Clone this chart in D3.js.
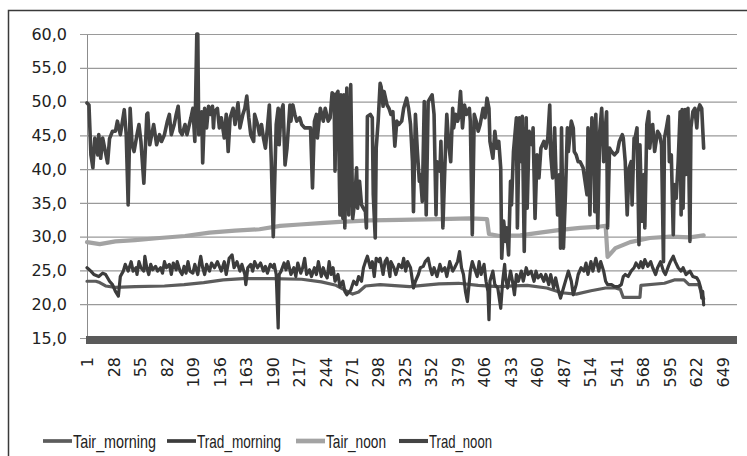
<!DOCTYPE html>
<html>
<head>
<meta charset="utf-8">
<script src="https://cdn.jsdelivr.net/npm/d3@7"></script>
<style>
  body { margin: 0; background: #fff; }
  svg { display: block; }
</style>
</head>
<body>
<div id="chart"></div>
<script>

// category axis labels (every 27th measurement)
var xTicks = [1, 28, 55, 82, 109, 136, 163, 190, 217, 244, 271, 298, 325, 352, 379, 406, 433, 460, 487, 514, 541, 568, 595, 622, 649];
var yTicks = [15, 20, 25, 30, 35, 40, 45, 50, 55, 60];

var seriesNames = ["Tair_morning", "Trad_morning", "Tair_noon", "Trad_noon"];

// [measurement number, temperature]
var tairMorning = [[1,23.4],[10,23.4],[14,23.2],[20,22.7],[30,22.5],[50,22.6],[80,22.7],[100,22.9],[120,23.2],[140,23.6],[160,23.8],[190,23.8],[220,23.7],[240,23.3],[255,22.8],[265,22.0],[272,21.5],[278,21.8],[285,22.7],[300,22.9],[330,22.6],[360,23.0],[380,23.1],[400,22.8],[420,22.6],[450,22.8],[470,22.4],[485,21.7],[500,21.5],[515,22.0],[530,22.4],[540,22.4],[545,22.2],[548,21.0],[565,21.0],[566,22.8],[590,23.1],[600,23.6],[610,23.6],[615,22.9],[625,22.9],[628,21.5],[630,20.8]];

var tradMorning = [[1,25.4],[5,24.9],[8,24.4],[13,24.1],[17,24.6],[20,24.4],[24,23.4],[27,22.9],[30,21.9],[33,21.2],[35,24.1],[38,24.9],[40,25.9],[43,24.9],[46,26.3],[48,24.9],[51,25.4],[52,24.4],[54,26.3],[56,25.4],[59,24.9],[60,27.1],[62,25.4],[64,24.4],[66,25.9],[68,25.1],[71,25.6],[73,24.9],[76,25.4],[78,24.6],[80,26.3],[82,25.4],[85,25.9],[87,24.4],[89,26.1],[92,25.1],[93,26.3],[96,24.9],[98,24.4],[100,25.6],[102,24.6],[104,26.3],[106,24.9],[109,24.6],[111,25.9],[114,24.4],[116,26.3],[117,27.1],[119,25.4],[121,24.4],[123,25.9],[126,24.9],[128,26.1],
  [131,25.4],[134,26.3],[138,24.9],[141,26.3],[143,24.4],[146,26.8],[149,27.3],[151,25.4],[154,26.3],[157,24.9],[159,25.9],[162,24.4],[163,22.9],[165,25.4],[168,25.9],[170,24.9],[172,26.3],[175,25.4],[178,26.1],[181,24.9],[183,25.6],[185,24.6],[188,25.9],[191,25.4],[192,25.9],[194,24.4],[196,16.5],[197,24.4],[199,24.9],[202,26.1],[204,25.1],[206,26.3],[209,24.4],[212,25.4],[214,24.1],[216,26.1],[219,24.6],[221,25.4],[223,26.8],[225,24.4],[228,25.1],[230,24.1],[233,25.4],[235,24.4],[237,26.3],[240,24.1],[242,25.4],[244,24.4],[246,23.9],[248,26.3],[250,24.4],[252,25.4],[254,23.4],[257,24.4],[259,22.6],[262,23.4],[264,21.9],
  [266,21.4],[270,22.1],[273,23.4],[276,22.9],[278,24.1],[281,23.4],[283,25.4],[285,26.3],[287,27.1],[290,25.4],[292,26.3],[294,24.1],[296,26.8],[299,26.3],[300,26.8],[303,24.4],[305,26.3],[307,26.8],[310,24.1],[311,26.3],[314,25.4],[316,24.4],[319,25.9],[322,25.4],[324,26.8],[326,24.9],[328,26.3],[331,25.4],[334,22.4],[336,23.4],[339,24.4],[341,25.4],[344,25.6],[346,26.3],[349,26.8],[351,25.4],[353,24.4],[355,25.4],[358,24.1],[361,25.9],[363,24.9],[366,25.4],[368,24.1],[371,26.3],[374,24.9],[376,25.4],[379,26.3],[381,27.8],[383,25.4],[385,24.4],[387,21.9],[389,20.4],[392,24.9],[394,26.3],[396,25.4],
  [399,24.1],[401,26.3],[403,24.4],[406,25.9],[408,23.4],[410,21.9],[411,17.7],[412,23.4],[415,24.9],[417,22.9],[420,22.4],[423,19.4],[425,23.4],[427,25.9],[428,23.9],[430,22.4],[433,24.9],[435,23.4],[437,21.4],[439,24.4],[441,23.4],[444,24.9],[446,23.4],[449,25.4],[451,24.4],[454,24.9],[457,23.4],[459,24.9],[461,23.9],[464,24.4],[467,23.4],[469,24.4],[472,22.9],[474,24.4],[477,22.4],[479,23.9],[482,21.9],[484,20.9],[487,22.4],[490,23.9],[492,24.9],[495,23.4],[497,21.4],[500,22.9],[502,24.4],[505,25.4],[508,24.9],[510,26.1],[512,24.4],[515,26.3],[517,24.9],[520,26.8],[523,24.9],[525,26.3],[528,24.9],[530,23.4],
  [532,22.9],[536,22.9],[539,22.6],[543,22.6],[546,22.9],[548,24.1],[550,24.4],[553,24.1],[556,24.9],[559,25.4],[561,26.1],[564,25.4],[566,26.3],[568,25.4],[570,26.6],[573,25.6],[576,26.3],[578,25.4],[581,24.4],[583,25.4],[586,26.3],[589,24.9],[591,24.4],[594,25.6],[596,26.3],[599,27.1],[601,26.3],[604,25.4],[607,24.9],[609,25.4],[612,24.4],[616,24.9],[619,24.1],[623,23.9],[625,23.4],[627,22.4],[628,20.9],[629,21.9],[630,19.9]];

var tairNoon = [[1,29.2],[14,28.9],[30,29.3],[50,29.5],[75,29.8],[101,30.1],[126,30.6],[152,30.9],[177,31.1],[198,31.6],[218,31.8],[239,32.0],[259,32.2],[290,32.4],[320,32.5],[361,32.6],[392,32.7],[409,32.6],[411,30.4],[422,30.1],[443,30.2],[463,30.6],[484,31.0],[504,31.3],[524,31.5],[530,31.6],[532,27.0],[540,28.3],[555,29.2],[575,29.8],[596,30.0],[616,29.9],[630,30.2]];

var tradNoon = [[1,49.8],[3,49.5],[5,42.1],[7,40.2],[9,44.6],[12,42.1],[13,45.1],[15,41.6],[17,44.6],[19,43.1],[22,40.9],[24,44.5],[27,45.6],[30,45.6],[32,47.1],[35,45.1],[39,48.8],[41,45.1],[43,34.7],[45,49.0],[47,43.6],[49,42.6],[52,45.1],[54,46.6],[56,44.1],[59,37.9],[62,48.1],[63,48.3],[65,43.6],[69,46.6],[72,43.6],[75,45.1],[77,44.1],[80,45.1],[83,47.1],[85,48.1],[87,45.1],[90,46.6],[92,48.1],[94,49.3],[96,45.6],[98,45.1],[101,46.6],[103,45.1],[107,47.6],[109,49.0],[111,44.1],[113,60.0],[114,60.0],[115,45.1],[118,48.5],[119,40.9],[121,49.0],[123,46.1],[125,49.3],[127,48.1],[129,49.3],[130,46.1],
  [131,48.5],[134,49.0],[136,46.1],[138,47.6],[141,44.6],[143,48.1],[145,42.6],[147,47.6],[150,49.0],[152,46.6],[155,49.8],[157,46.1],[160,48.1],[162,49.0],[164,50.8],[166,47.6],[168,45.1],[171,44.1],[172,48.1],[175,46.6],[177,45.1],[179,46.6],[181,44.6],[183,43.1],[185,46.1],[187,49.5],[189,41.1],[191,30.0],[192,35.7],[194,46.6],[196,49.0],[197,43.6],[199,48.5],[201,49.5],[203,40.6],[205,43.1],[208,49.5],[209,47.1],[211,49.5],[213,48.1],[215,47.1],[218,47.6],[220,46.6],[223,46.1],[226,46.1],[229,46.1],[231,37.2],[233,47.1],[235,48.1],[236,44.6],[239,49.0],[242,47.1],[244,49.0],[247,47.1],[249,47.6],[251,51.3],[253,51.0],[254,39.7],[255,51.0],[257,51.5],[259,33.2],[260,51.0],[262,32.7],[263,51.0],[264,31.3],
  [266,52.0],[268,33.2],[270,52.5],[272,32.7],[274,35.2],[276,40.2],[277,34.2],[279,38.2],[281,34.7],[283,34.2],[285,33.7],[286,31.3],[287,47.8],[290,48.1],[292,47.6],[293,36.2],[295,29.8],[296,43.1],[298,47.1],[300,52.7],[301,52.2],[303,49.3],[304,51.5],[307,49.5],[309,49.0],[311,48.1],[313,48.5],[315,43.4],[317,47.1],[319,46.6],[322,47.1],[324,49.0],[327,50.5],[329,49.0],[331,46.6],[333,41.1],[334,33.7],[336,48.1],[338,42.6],[340,38.2],[341,39.2],[343,35.2],[345,50.0],[347,33.2],[349,50.0],[351,50.5],[353,51.0],[355,48.1],[357,33.2],[358,41.1],[361,39.7],[362,44.1],[364,31.3],[367,44.6],[368,48.1],[370,43.6],[372,41.1],[374,49.0],[375,46.1],[377,48.1],[379,47.1],[380,47.6],[382,51.5],[384,46.1],[386,49.5],[388,48.1],[391,49.0],[392,47.1],[394,30.3],[396,48.1],
  [398,47.1],[400,45.6],[402,46.6],[405,49.0],[407,47.6],[409,50.5],[411,49.0],[412,44.1],[415,41.6],[417,45.6],[419,43.1],[421,44.1],[423,40.2],[424,26.8],[426,32.3],[428,29.3],[429,31.3],[431,27.3],[433,38.2],[434,34.7],[436,42.6],[439,47.6],[440,31.3],[442,47.6],[444,41.1],[445,47.8],[447,27.8],[449,47.6],[450,34.2],[452,45.6],[455,43.6],[456,46.1],[458,32.7],[460,42.1],[462,38.7],[464,43.1],[467,44.1],[469,43.1],[471,44.6],[473,49.5],[474,42.1],[476,38.7],[478,46.1],[479,41.1],[481,33.2],[483,39.2],[484,28.3],[485,46.1],[487,28.3],[489,36.2],[491,46.1],[492,42.6],[495,47.1],[497,46.1],[498,42.6],[500,42.1],[502,41.1],[504,41.1],[507,40.2],[508,39.2],[511,36.2],[512,46.1],[514,33.2],[516,47.6],[518,44.6],[519,33.7],[520,48.1],[522,31.3],[524,45.6],[526,49.0],[528,41.1],[530,46.6],
  [531,48.5],[532,31.3],[534,43.1],[536,42.6],[539,42.1],[542,42.6],[544,44.1],[547,45.1],[548,44.6],[550,41.1],[552,33.2],[554,40.2],[556,41.1],[557,34.7],[559,44.6],[560,44.6],[562,46.1],[564,28.8],[565,43.6],[567,32.3],[569,39.2],[570,31.3],[572,46.6],[574,48.5],[575,43.1],[577,46.1],[578,46.6],[580,42.6],[582,44.6],[583,45.6],[585,45.1],[587,43.6],[589,26.3],[590,44.6],[592,46.1],[594,47.8],[595,41.1],[597,42.1],[599,30.3],[600,37.7],[602,35.7],[604,41.1],[606,48.5],[607,33.2],[608,48.8],[609,34.2],[611,48.8],[612,39.2],[614,49.0],[616,29.3],[617,46.1],[619,48.5],[621,49.0],[623,46.1],[624,48.5],[626,49.5],[628,49.0],[630,43.1]];

var width = 747,
    height = 456;

var svg = d3.select("#chart").append("svg")
    .attr("width", width)
    .attr("height", height);

// chart frame (only top and left edges fall inside the picture)
svg.append("rect")
    .attr("x", 8.5)
    .attr("y", 10.5)
    .attr("width", 760)
    .attr("height", 460)
    .attr("fill", "none")
    .attr("stroke", "#3a3a3a")
    .attr("stroke-width", 1.5);

var x = d3.scaleLinear().domain([1, 664]).range([87, 737]);
var y = d3.scaleLinear().domain([15, 60]).range([338, 34]);

// y axis + gridlines
var yAxis = svg.append("g")
    .attr("transform", "translate(87,0)")
    .call(d3.axisLeft(y)
        .tickValues(yTicks)
        .tickSize(-650)
        .tickPadding(20)
        .tickFormat(function (d) { return d3.format(".1f")(d).replace(".", ","); }));

yAxis.select(".domain").attr("stroke", "#8c8c8c").attr("d", "M0.5," + y(60) + "V" + y(15));
yAxis.selectAll(".tick line")
    .attr("x1", -7)
    .attr("stroke", "#9a9a9a")
    .attr("stroke-width", 1.2);
yAxis.selectAll(".tick text")
    .attr("font-family", "DejaVu Sans")
    .attr("font-size", 16)
    .attr("fill", "#222");

// thick category axis band
svg.append("rect")
    .attr("x", 86)
    .attr("y", 336)
    .attr("width", 651)
    .attr("height", 8)
    .attr("fill", "#5a5a5a");

// x axis labels
var xAxis = svg.append("g")
    .attr("transform", "translate(0,344)")
    .call(d3.axisBottom(x).tickValues(xTicks).tickSize(0).tickPadding(0));

xAxis.select(".domain").remove();
xAxis.selectAll(".tick text")
    .attr("font-family", "DejaVu Sans")
    .attr("font-size", 16)
    .attr("fill", "#222")
    .attr("text-anchor", "end")
    .attr("transform", "translate(0,13) rotate(-90)")
    .attr("x", 0)
    .attr("y", 0)
    .attr("dy", "0.36em");

var colors = ["#5c5c5c", "#3c3c3c", "#a3a3a3", "#444444"];
var widths = [3.2, 3.2, 4.2, 3.6];
var allData = [tairMorning, tradMorning, tairNoon, tradNoon];

var line = d3.line()
    .x(function (d) { return x(d[0]); })
    .y(function (d) { return y(d[1]); });

allData.forEach(function (s, i) {
    svg.append("path")
        .datum(s)
        .attr("d", line)
        .attr("fill", "none")
        .attr("stroke", colors[i])
        .attr("stroke-width", widths[i])
        .attr("stroke-linejoin", "round")
        .attr("stroke-linecap", "round");
});

// legend
var legendX = [43, 167, 296, 399];
var legendW = [83, 84, 60, 63];
var legend = svg.append("g");
seriesNames.forEach(function (name, i) {
    legend.append("line")
        .attr("x1", legendX[i])
        .attr("x2", legendX[i] + 29)
        .attr("y1", 441)
        .attr("y2", 441)
        .attr("stroke", colors[i])
        .attr("stroke-width", widths[i] + 0.5);
    legend.append("text")
        .attr("x", legendX[i] + 30)
        .attr("y", 441)
        .attr("dy", "0.35em")
        .attr("font-family", "Liberation Sans, sans-serif")
        .attr("font-size", 19)
        .attr("textLength", legendW[i])
        .attr("lengthAdjust", "spacingAndGlyphs")
        .attr("fill", "#222")
        .text(name);
});

</script>
</body>
</html>
